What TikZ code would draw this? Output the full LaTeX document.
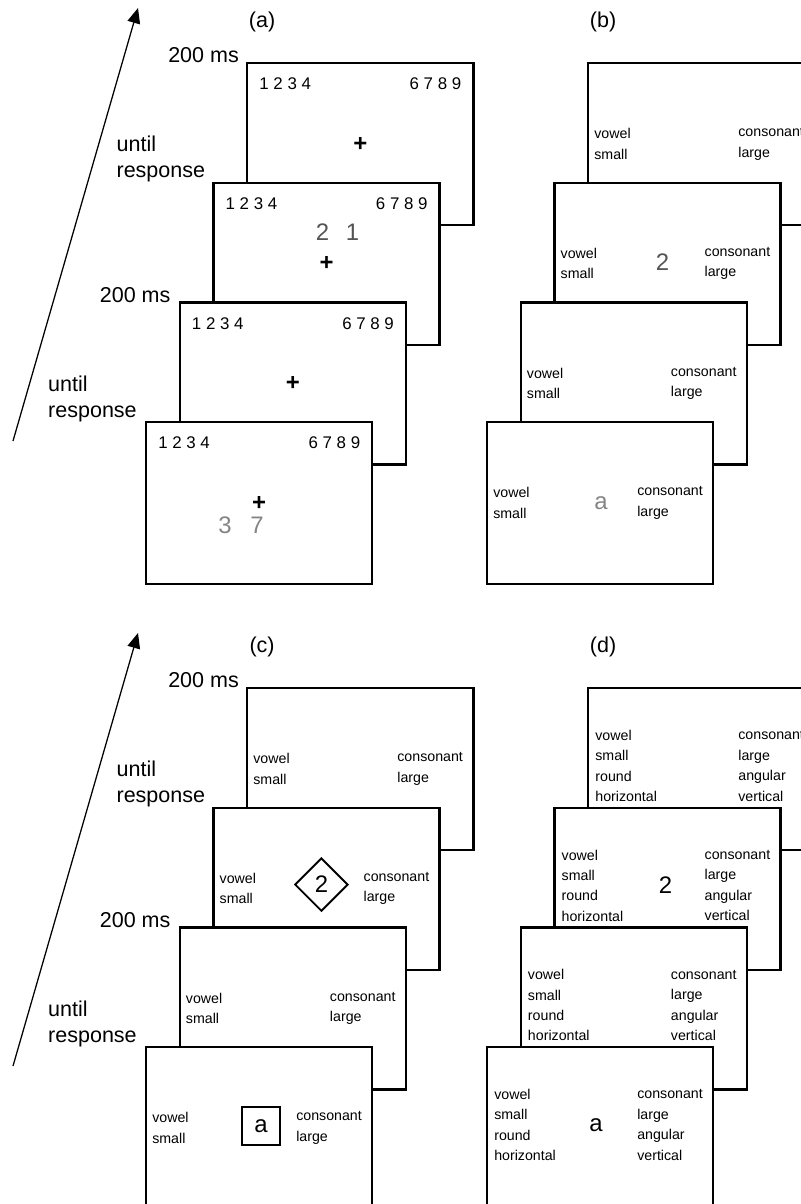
\documentclass[tikz,border=0pt]{standalone}
\usepackage{fontspec}
\setmainfont{Liberation Sans}
\usepackage{xcolor}
\usetikzlibrary{arrows.meta, positioning, calc, shapes.geometric}

\definecolor{probedark}{gray}{0.33}
\definecolor{probelight}{gray}{0.52}

\begin{document}
\begin{tikzpicture}[
    x=0.025cm, y=-0.025cm,
    screen/.style={draw, line width=1.7pt, fill=white, minimum width=5.65cm,
                   minimum height=4.05cm, inner sep=0pt, anchor=north west},
    timelbl/.style={font=\fontsize{15.3}{18.5}\selectfont, inner sep=0pt},
    digits/.style={font=\fontsize{12}{14}\selectfont, inner sep=0pt},
    words/.style={font=\fontsize{10.1}{14.5}\selectfont, align=left,
                  inner sep=0pt, anchor=west},
    probe/.style={font=\fontsize{17}{20}\selectfont, inner sep=0pt},
    cross/.style={font=\fontsize{17}{20}\selectfont\bfseries, inner sep=0pt},
    timeaxis/.style={-{Triangle[length=3.8mm, width=3.2mm]}, line width=0.9pt},
]
    \useasboundingbox (0,0) rectangle (801,1204);

    % Screens, back to front
    \foreach \p/\ox/\oy in {a/0/0, b/341/0, c/0/625, d/341/625}
      \foreach \k in {4,3,2,1}
        \node[screen] (\p\k) at ({145+\ox+33.7*(\k-1)}, {421+\oy-119.7*(\k-1)}) {};

    % Panel titles
    \node[timelbl] (ta) at ($(a4.north west)+(16,-40)$) {(a)};
    \node[timelbl] (tb) at ($(b4.north west)+(16,-40)$) {(b)};
    \node[timelbl] (tc) at ($(c4.north west)+(16,-40)$) {(c)};
    \node[timelbl] (td) at ($(d4.north west)+(16,-40)$) {(d)};

    % Time axes
    \coordinate (a-tail) at (13,441);
    \coordinate (a-head) at (138,8);
    \coordinate (c-tail) at (13,1066);
    \coordinate (c-head) at (138,633);
    \draw[timeaxis] (a-tail) -- (a-head);
    \draw[timeaxis] (c-tail) -- (c-head);

    % Durations
    \foreach \p in {a,c} {
      \node[timelbl, anchor=base east] (\p-t4) at ($(\p4.north west)+(-7,1)$) {200 ms};
      \node[timelbl, align=left, anchor=south east] (\p-t3) at ($(\p3.north west)+(-7,1)$) {until\\response};
      \node[timelbl, anchor=base east] (\p-t2) at ($(\p2.north west)+(-8,1)$) {200 ms};
      \node[timelbl, align=left, anchor=south east] (\p-t1) at ($(\p1.north west)+(-8,1)$) {until\\response};
    }

    % (a) number line screens
    \foreach \s in {a1,a2,a3,a4} {
      \node[digits, anchor=west] (\s-lo) at ($(\s.north west)+(13,22)$) {1 2 3 4};
      \node[digits, anchor=east] (\s-hi) at ($(\s.north east)+(-13,22)$) {6 7 8 9};
      \node[cross] (\s-fix) at (\s.center) {+};
    }
    \node[probe, text=probedark] (a3-two) at ($(a3.north west)+(110,51)$) {2};
    \node[probe, text=probedark] (a3-one) at ($(a3.north west)+(140,51)$) {1};
    \node[probe, text=probelight] (a1-three) at ($(a1.north west)+(80,104)$) {3};
    \node[probe, text=probelight] (a1-seven) at ($(a1.north west)+(112,104)$) {7};

    % (b) and (c) two-feature screens
    \foreach \s in {b1,b2,b3,b4,c1,c2,c3,c4} {
      \node[words] (\s-v) at ($(\s.north west)+(7,82)$) {vowel\\small};
      \node[words] (\s-c) at ($(\s.north west)+(151,82)$) {consonant\\large};
    }
    \node[probe, text=probedark] (b3-two) at ($(b3.north west)+(109,81)$) {2};
    \node[probe, text=probelight] (b1-a) at ($(b1.north west)+(115,82)$) {a};
    \node[probe, draw, diamond, line width=1.3pt, minimum size=1.33cm]
        (c3-two) at ($(c3.north west)+(109,78)$) {2};
    \node[probe, draw, rectangle, line width=1.3pt, minimum size=0.95cm]
        (c1-a) at ($(c1.north west)+(116,80)$) {a};

    % (d) four-feature screens
    \foreach \s in {d1,d2,d3,d4} {
      \node[words] (\s-v) at ($(\s.north west)+(8,79)$) {vowel\\small\\round\\horizontal};
      \node[words] (\s-c) at ($(\s.north west)+(151,79)$) {consonant\\large\\angular\\vertical};
    }
    \node[probe] (d3-two) at ($(d3.north west)+(112,79)$) {2};
    \node[probe] (d1-a) at ($(d1.north west)+(110,79)$) {a};
\end{tikzpicture}
\end{document}
